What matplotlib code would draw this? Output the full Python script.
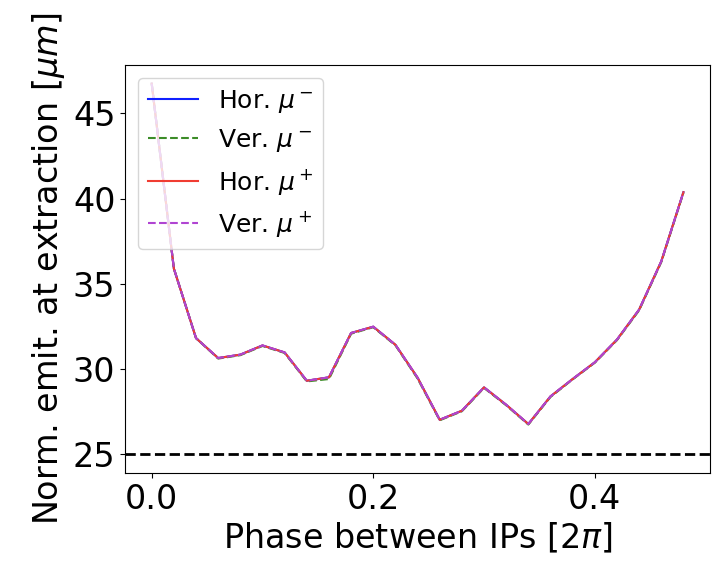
import matplotlib
matplotlib.use("Agg")
import matplotlib.pyplot as plt

# ======================
# Data
# ======================

phase = [0.00, 0.02, 0.04, 0.06, 0.08, 0.10, 0.12, 0.14, 0.16, 0.18,
         0.20, 0.22, 0.24, 0.26, 0.28, 0.30, 0.32, 0.34, 0.36, 0.38,
         0.40, 0.42, 0.44, 0.46, 0.48]

hor_mu_minus = [46.75, 35.9, 31.82, 30.65, 30.85, 31.39, 30.98, 29.32, 29.52, 32.12,
                32.49, 31.43, 29.5, 27.03, 27.56, 28.93, 27.91, 26.78, 28.40, 29.42,
                30.40, 31.73, 33.49, 36.32, 40.38]
ver_mu_minus = [46.75, 35.9, 31.82, 30.62, 30.82, 31.36, 30.95, 29.28, 29.42, 32.08,
                32.46, 31.40, 29.45, 27.00, 27.53, 28.90, 27.88, 26.75, 28.37, 29.40,
                30.38, 31.70, 33.45, 36.28, 40.35]
hor_mu_plus = [46.75, 35.9, 31.82, 30.65, 30.85, 31.39, 30.98, 29.32, 29.52, 32.12,
               32.49, 31.43, 29.5, 27.03, 27.56, 28.93, 27.91, 26.78, 28.40, 29.42,
               30.40, 31.73, 33.49, 36.32, 40.38]
ver_mu_plus = [46.75, 35.9, 31.82, 30.65, 30.85, 31.39, 30.98, 29.32, 29.52, 32.12,
               32.49, 31.43, 29.5, 27.03, 27.56, 28.93, 27.91, 26.78, 28.40, 29.42,
               30.40, 31.73, 33.49, 36.32, 40.38]

target_emit = 25.0

# ======================
# Plot
# ======================

fig = plt.figure(figsize=(7.15, 5.61), dpi=100)
ax = fig.add_axes([0.175, 0.157, 0.818, 0.727])

ax.plot(phase, hor_mu_minus, color="#1020ff", label=r"Hor. $\mu^-$")
ax.plot(phase, ver_mu_minus, "--", color="#3c8c28", label=r"Ver. $\mu^-$")
ax.plot(phase, hor_mu_plus, color="#f03c32", label=r"Hor. $\mu^+$")
ax.plot(phase, ver_mu_plus, "--", color="#b044d2", label=r"Ver. $\mu^+$")

ax.axhline(target_emit, color="k", linestyle="--", linewidth=2)

ax.set_xlabel(r"Phase between IPs [$2\pi$]", fontsize=24)
ax.set_ylabel(r"Norm. emit. at extraction [$\mu m$]", fontsize=24)
ax.tick_params(labelsize=24)
ax.set_xticks([0.0, 0.2, 0.4])

ax.legend(loc="upper left", fontsize=18)

fig.savefig("out.png")
